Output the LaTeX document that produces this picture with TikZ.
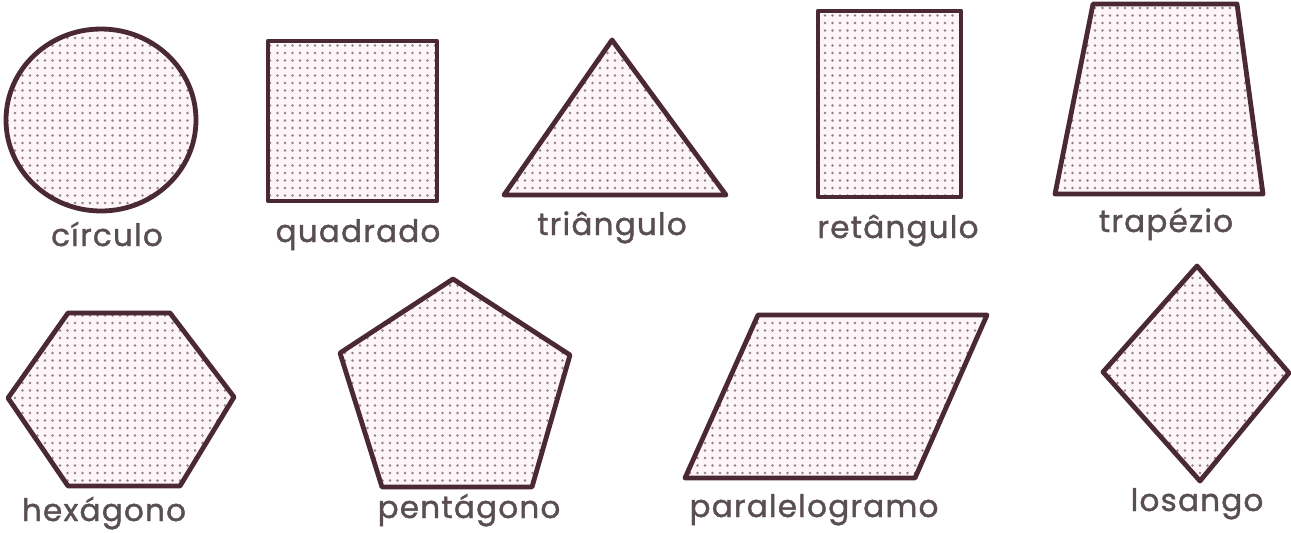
\documentclass[tikz,border=0pt]{standalone}
\usepackage{fontspec}
\setmainfont{Poppins}[LetterSpace=4,FakeBold=1.3]
\usetikzlibrary{patterns.meta}
\definecolor{edge}{HTML}{4A2836}
\definecolor{dotc}{HTML}{928088}
\definecolor{tint}{HTML}{FDF5F8}
\definecolor{txt}{HTML}{5A4E55}
\tikzset{
  shapefill/.style={draw=edge, line width=4.8pt, line join=round,
    preaction={fill=tint},
    pattern={Dots[distance=7.5pt, radius=1.45pt]}, pattern color=dotc},
  lbl/.style={anchor=base, text=txt, inner sep=0pt,
    font=\fontsize{31}{34}\selectfont}
}
\begin{document}
\begin{tikzpicture}[x=1pt,y=-1pt]
\useasboundingbox (0,0) rectangle (1291,533);
% row 1
\path[shapefill] (101,120) ellipse [x radius=95, y radius=91];
\path[shapefill] (268,41) rectangle (437,201);
\path[shapefill] (612,40) -- (726,195) -- (504,195) -- cycle;
\path[shapefill] (818,11) rectangle (961,197);
\path[shapefill] (1093,4) -- (1237,4) -- (1263,194) -- (1055,194) -- cycle;
\node[lbl] (circ) at (107,246) {círculo};
\node[lbl] (quad) at (358,242) {quadrado};
\node[lbl] (tri)  at (612,235) {triângulo};
\node[lbl] (ret)  at (898,238) {retângulo};
\node[lbl] (trap) at (1166,232) {trapézio};
% row 2
\path[shapefill] (68,313) -- (170,313) -- (234,397) -- (180,486) -- (68,486) -- (8,398) -- cycle;
\path[shapefill] (453,279) -- (570,355) -- (532,487) -- (382,487) -- (340,353) -- cycle;
\path[shapefill] (758,315) -- (987,315) -- (915,478) -- (685,478) -- cycle;
\path[shapefill] (1197,266) -- (1289,373) -- (1200,481) -- (1103,372) -- cycle;
\node[lbl] (hex)  at (104,521) {hexágono};
\node[lbl] (pent) at (469,518) {pentágono};
\node[lbl] (para) at (814,517) {paralelogramo};
\node[lbl] (los)  at (1197,511) {losango};
\end{tikzpicture}
\end{document}
